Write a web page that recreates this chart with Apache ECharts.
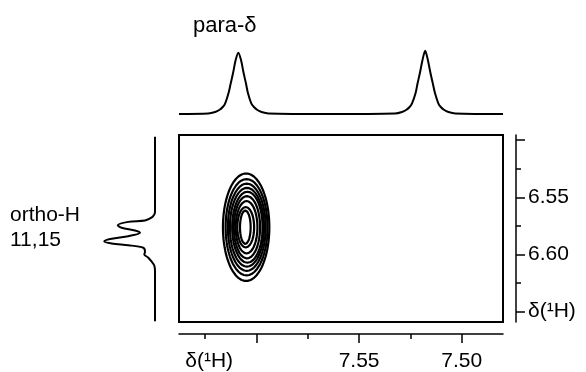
<!DOCTYPE html>
<html>
<head>
<meta charset="utf-8">
<script src="https://cdn.jsdelivr.net/npm/echarts@6/dist/echarts.min.js"></script>
<style>
html,body{margin:0;padding:0;background:#fff;}
#chart{width:586px;height:372px;}
</style>
</head>
<body>
<div id="chart"></div>
<script>
// ---- data (chemical shifts in ppm, intensities in arbitrary units) ----
// F2 (horizontal) 1D projection: para-delta protons
const topSpecPpm = [7.6377, 7.6235, 7.6201, 7.6181, 7.6164, 7.6152, 7.6136, 7.6125, 7.6114, 7.6101, 7.6088, 7.6075, 7.6062, 7.6051, 7.6041, 7.6025, 7.6012, 7.5995, 7.5975, 7.5941, 7.5650,
                    7.5325, 7.5291, 7.5271, 7.5254, 7.5242, 7.5225, 7.5215, 7.5204, 7.5191, 7.5178, 7.5165, 7.5152, 7.5141, 7.5130, 7.5114, 7.5102, 7.5085, 7.5065, 7.5031, 7.4799];
const topSpecInt = [0, 0.5, 2, 4, 7, 10.7, 20.7, 30.7, 40.7, 54, 61.3, 54, 40.7, 30.7, 20.7, 10.7, 7, 4, 2, 0.5, 0,
                    0.5, 2, 4, 7, 10.7, 20.7, 30.7, 40.7, 54, 63.3, 54, 40.7, 30.7, 20.7, 10.7, 7, 4, 2, 0.5, 0];
// F1 (vertical) 1D projection: ortho-H 11,15
const leftSpecPpm = [6.4971, 6.5629, 6.5655, 6.5681, 6.5703, 6.5715, 6.5744, 6.5767, 6.5790, 6.5810, 6.5840, 6.5863, 6.5884, 6.5904, 6.5919, 6.5941, 6.5976, 6.6000, 6.6028, 6.6061, 6.6096, 6.6148, 6.6584];
const leftSpecInt = [0, 0, 1, 4, 10, 26.7, 37.3, 33.3, 20, 15, 26.7, 43.3, 50.7, 43.3, 26.7, 11.7, 10, 10.7, 6.7, 3.5, 0.7, 0, 0];
// cross-peak contour levels (outer -> inner): centre and half-widths in ppm
const contourCx = [7.6050, 7.6048, 7.6047, 7.6046, 7.6044, 7.6046, 7.6048, 7.6052, 7.6054];
const contourCy = [6.5762, 6.5762, 6.5762, 6.5762, 6.5762, 6.5762, 6.5762, 6.5762, 6.5762];
const contourRx = [0.0113, 0.0102, 0.0092, 0.0083, 0.0074, 0.0064, 0.0053, 0.0041, 0.0026];
const contourRy = [0.0470, 0.0421, 0.0381, 0.0344, 0.0310, 0.0272, 0.0229, 0.0177, 0.0146];
// axis ticks / labels
const xMajorTicks = [7.60, 7.55, 7.50];
const xMinorTicks = [7.625, 7.575, 7.525];
const xLabelValues = [7.623, 7.55, 7.50];
const xLabelTexts = ['δ(¹H)', '7.55', '7.50'];
const yMajorTicks = [6.50, 6.55, 6.60, 6.65];
const yMinorTicks = [6.525, 6.575, 6.625];
const yLabelValues = [6.55, 6.60, 6.65];
const yLabelTexts = ['6.55', '6.60', 'δ(¹H)'];
const f2Range = [7.4799, 7.6377];
const f1Range = [6.4956, 6.659];

// ---- build ----
const FONT = '"Liberation Sans", Arial, Helvetica, sans-serif';
const chart = echarts.init(document.getElementById('chart'), null, {renderer: 'canvas'});

function labelFor(values, texts) {
  return function (v) {
    for (let i = 0; i < values.length; i++) {
      if (Math.abs(v - values[i]) < 1e-6) return texts[i];
    }
    return '';
  };
}

const contourSeries = contourRx.map(function (rx, k) {
  const pts = [];
  const n = 96;
  for (let i = 0; i <= n; i++) {
    const t = (i / n) * Math.PI * 2;
    const c = Math.cos(t), s = Math.sin(t);
    pts.push([contourCx[k] + rx * c, contourCy[k] + contourRy[k] * s]);
  }
  return {
    type: 'line', xAxisIndex: 0, yAxisIndex: 0, data: pts,
    showSymbol: false, symbol: 'none', silent: true,
    lineStyle: {color: '#000', width: 2.2}
  };
});

const axisLineStyle = {show: true, lineStyle: {color: '#000', width: 1.5}};

const option = {
  animation: false,
  backgroundColor: '#fff',
  grid: [
    {left: 179, right: 83, top: 135, bottom: 50, show: true, borderColor: '#000', borderWidth: 2, backgroundColor: 'transparent'},
    {left: 179, right: 83, top: 40, bottom: 258},
    {left: 95, right: 431, top: 135, bottom: 50}
  ],
  xAxis: [
    {gridIndex: 0, type: 'value', min: f2Range[0], max: f2Range[1], inverse: true, position: 'bottom', offset: 12,
     axisLine: axisLineStyle, splitLine: {show: false},
     axisTick: {show: true, inside: false, length: 9, customValues: xMajorTicks, lineStyle: {color: '#000', width: 1.5}},
     axisLabel: {show: true, customValues: xLabelValues, formatter: labelFor(xLabelValues, xLabelTexts), color: '#000', fontSize: 21, fontFamily: FONT, margin: 17}},
    {gridIndex: 0, type: 'value', min: f2Range[0], max: f2Range[1], inverse: true, position: 'bottom', offset: 12,
     axisLine: {show: false}, splitLine: {show: false},
     axisTick: {show: true, inside: false, length: 5, customValues: xMinorTicks, lineStyle: {color: '#000', width: 1.5}},
     axisLabel: {show: false}},
    {gridIndex: 1, type: 'value', min: f2Range[0], max: f2Range[1], inverse: true, show: false},
    {gridIndex: 2, type: 'value', min: 0, max: 60, inverse: true, show: false}
  ],
  yAxis: [
    {gridIndex: 0, type: 'value', min: f1Range[0], max: f1Range[1], inverse: true, position: 'right', offset: 13,
     axisLine: axisLineStyle, splitLine: {show: false},
     axisTick: {show: true, inside: false, length: 9, customValues: yMajorTicks, lineStyle: {color: '#000', width: 1.5}},
     axisLabel: {show: true, customValues: yLabelValues, formatter: labelFor(yLabelValues, yLabelTexts), color: '#000', fontSize: 21, fontFamily: FONT, margin: 12}},
    {gridIndex: 0, type: 'value', min: f1Range[0], max: f1Range[1], inverse: true, position: 'right', offset: 13,
     axisLine: {show: false}, splitLine: {show: false},
     axisTick: {show: true, inside: false, length: 5, customValues: yMinorTicks, lineStyle: {color: '#000', width: 1.5}},
     axisLabel: {show: false}},
    {gridIndex: 1, type: 'value', min: 0, max: 74, show: false},
    {gridIndex: 2, type: 'value', min: f1Range[0], max: f1Range[1], inverse: true, show: false}
  ],
  graphic: [
    {type: 'text', left: 193, top: 15, style: {text: 'para-δ', font: '22px ' + FONT, fill: '#000'}},
    {type: 'text', left: 10, top: 205, style: {text: 'ortho-H', font: '21px ' + FONT, fill: '#000'}},
    {type: 'text', left: 10, top: 230, style: {text: '11,15', font: '21px ' + FONT, fill: '#000'}}
  ],
  series: [
    {type: 'line', xAxisIndex: 2, yAxisIndex: 2, showSymbol: false, symbol: 'none', smooth: 0.3,
     data: topSpecPpm.map(function (p, i) { return [p, topSpecInt[i]]; }),
     lineStyle: {color: '#000', width: 2}},
    {type: 'line', xAxisIndex: 3, yAxisIndex: 3, showSymbol: false, symbol: 'none', smooth: 0.3,
     data: leftSpecPpm.map(function (p, i) { return [leftSpecInt[i], p]; }),
     lineStyle: {color: '#000', width: 2}}
  ].concat(contourSeries)
};
chart.setOption(option);
</script>
</body>
</html>
